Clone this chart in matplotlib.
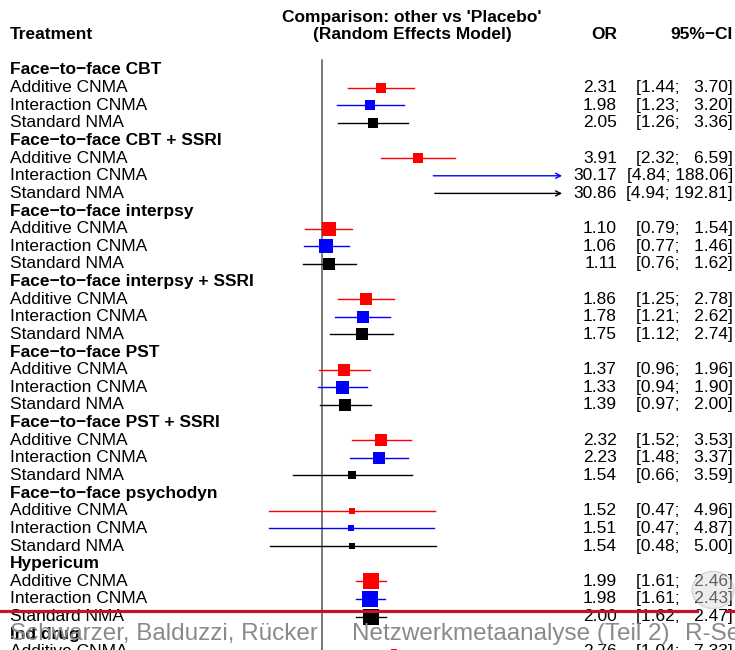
"""Forest plot: CNMA vs standard NMA, odds ratios against placebo (random effects)."""
import numpy as np
import matplotlib
matplotlib.use("Agg")
import matplotlib.pyplot as plt
from matplotlib import transforms
from matplotlib.lines import Line2D
from matplotlib.patches import Circle

plt.rcParams["font.family"] = ["Liberation Sans", "DejaVu Sans"]

# ---- data ------------------------------------------------------------------
treatments = ["Face−to−face CBT", "Face−to−face CBT + SSRI", "Face−to−face interpsy",
              "Face−to−face interpsy + SSRI", "Face−to−face PST", "Face−to−face PST + SSRI",
              "Face−to−face psychodyn", "Hypericum", "Ind drug"]
methods = ["Additive CNMA", "Interaction CNMA", "Standard NMA"]

or_additive = [2.31, 3.91, 1.10, 1.86, 1.37, 2.32, 1.52, 1.99, 2.76]
lo_additive = [1.44, 2.32, 0.79, 1.25, 0.96, 1.52, 0.47, 1.61, 1.04]
hi_additive = [3.70, 6.59, 1.54, 2.78, 1.96, 3.53, 4.96, 2.46, 7.33]
w_additive = [10.7, 10.7, 13.7, 11.7, 12.7, 11.3, 5.7, 15.7, 5.5]

or_interaction = [1.98, 30.17, 1.06, 1.78, 1.33, 2.23, 1.51, 1.98]
lo_interaction = [1.23, 4.84, 0.77, 1.21, 0.94, 1.48, 0.47, 1.61]
hi_interaction = [3.20, 188.06, 1.46, 2.62, 1.90, 3.37, 4.87, 2.43]
w_interaction = [10.7, 6.0, 13.7, 12.3, 13.0, 12.0, 6.0, 15.7]

or_standard = [2.05, 30.86, 1.11, 1.75, 1.39, 1.54, 1.54, 2.00]
lo_standard = [1.26, 4.94, 0.76, 1.12, 0.97, 0.66, 0.48, 1.62]
hi_standard = [3.36, 192.81, 1.62, 2.74, 2.00, 3.59, 5.00, 2.47]
w_standard = [10.7, 6.0, 12.7, 11.3, 12.7, 7.3, 6.0, 15.7]

series = [
    (or_additive, lo_additive, hi_additive, w_additive, "#ff0000"),
    (or_interaction, lo_interaction, hi_interaction, w_interaction, "#0000ff"),
    (or_standard, lo_standard, hi_standard, w_standard, "#000000"),
]

# ---- layout (pixels of a 735x650 canvas) -----------------------------------
W, H = 735, 650
FS = 12.5
row_h, row0 = 17.63, 70          # row spacing and y of first group heading
xlo, xhi = 1 / 30, 30
px_null, px_per_ln = 322, 70.6

fig = plt.figure(figsize=(W / 100, H / 100), dpi=100)
left_px = px_null - px_per_ln * np.log(xhi)
ax = fig.add_axes([left_px / W, 0, 2 * px_per_ln * np.log(xhi) / W, 1])
ax.set_xscale("log")
ax.set_xlim(xlo, xhi)
ax.set_ylim((H - row0) / row_h, -row0 / row_h)
ax.axis("off")

tr = transforms.blended_transform_factory(fig.transFigure, ax.transData)


def put(xpx, row, s, **kw):
    ax.text(xpx / W, row, s, transform=tr, fontsize=FS, va="center", clip_on=False, **kw)


# header
put(412, -3, "Comparison: other vs 'Placebo'", ha="center", fontweight="bold")
put(412, -2, "(Random Effects Model)", ha="center", fontweight="bold")
put(10, -2, "Treatment", ha="left", fontweight="bold")
put(617, -2, "OR", ha="right", fontweight="bold")
put(733, -2, "95%−CI", ha="right", fontweight="bold")

# null line
ax.plot([1, 1], [-0.57, (H - row0) / row_h], color="#555555", lw=1.1, zorder=1)

hi_width = max(len(f"{v:.2f}") for s in series for v in s[2])

for g, name in enumerate(treatments):
    base = 4 * g
    put(10, base, name, ha="left", fontweight="bold")
    for k, (est, lo, hi, w, col) in enumerate(series):
        if g >= len(est):
            continue
        r = base + k + 1
        put(10, r, methods[k], ha="left")
        put(617, r, f"{est[g]:.2f}", ha="right")
        put(733, r, f"[{lo[g]:.2f}; {hi[g]:>{hi_width}.2f}]", ha="right")
        if hi[g] > xhi:
            ax.annotate("", xy=(xhi, r), xytext=(lo[g], r),
                        arrowprops=dict(arrowstyle="->", color=col, lw=1.0,
                                        mutation_scale=9, shrinkA=0, shrinkB=0))
        else:
            ax.plot([lo[g], hi[g]], [r, r], color=col, lw=1.0, zorder=2)
        if xlo < est[g] < xhi and hi[g] <= xhi:
            ax.plot(est[g], r, marker="s", ms=w[g] * 0.72, color=col, mew=0, zorder=3)

# slide footer overlay
for x0, x1 in [(0, 697), (727, 735)]:
    fig.add_artist(Line2D([x0 / W, x1 / W], [1 - 611 / H] * 2, color="#c8102e",
                          lw=2.3, transform=fig.transFigure, zorder=5))
fig.add_artist(Circle((713 / W, 1 - 590 / H), 21 / W, transform=fig.transFigure,
                      facecolor="#d9d9d9", edgecolor="#b0b0b0", alpha=0.45, zorder=5))
for xpx, s in [(10, "Schwarzer, Balduzzi, Rücker"), (352, "Netzwerkmetaanalyse (Teil 2)"),
               (685, "R-Seminar")]:
    fig.text(xpx / W, 1 - 634 / H, s, fontsize=17.5, color="#8a8a8a",
             ha="left", va="center", zorder=6)

fig.savefig("out.png", dpi=100)
